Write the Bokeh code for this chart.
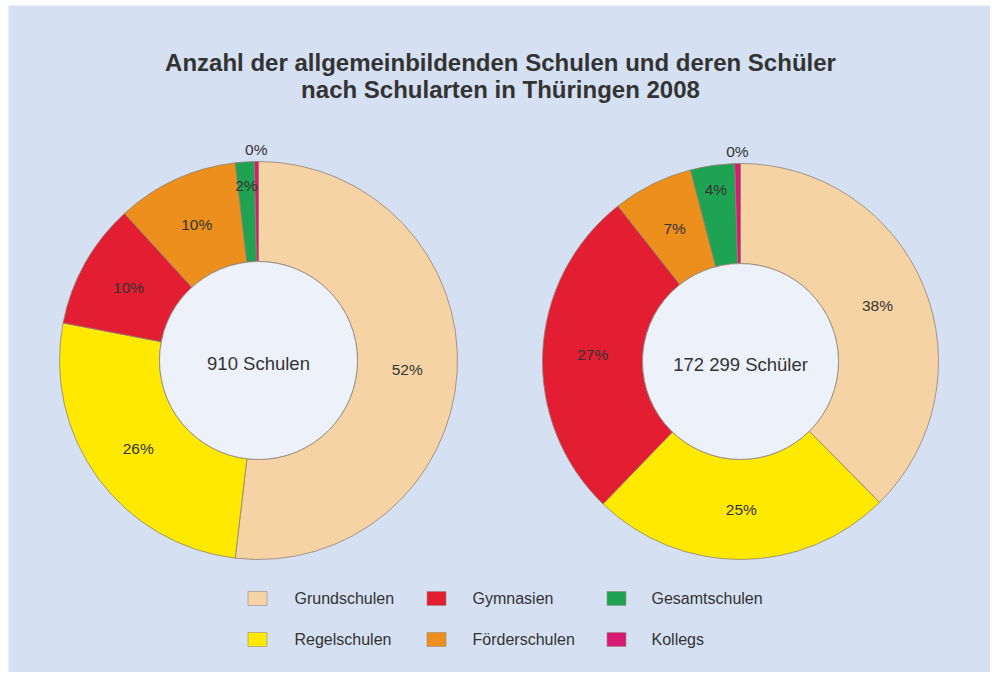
import math
from bokeh.plotting import figure
from bokeh.models import ColumnDataSource, Range1d
from bokeh.core.properties import value
from bokeh.embed import file_html
from bokeh.resources import INLINE

# ---- data ----
categories = ["Grundschulen", "Regelschulen", "Gymnasien", "Förderschulen", "Gesamtschulen", "Kollegs"]
schulen = [472, 238, 93, 90, 14, 3]
schueler = [64800, 42400, 46800, 11300, 6200, 799]
colors = ["#f6d3a5", "#ffe900", "#e31d32", "#ec8f1c", "#1ea352", "#d81b72"]
center_labels = ["910 Schulen", "172 299 Schüler"]
title_lines = ["Anzahl der allgemeinbildenden Schulen und deren Schüler",
               "nach Schularten in Thüringen 2008"]

W, H = 990, 672
ML, MT = 8, 5
FW, FH = W - ML, H - MT
BG = "#d5e0f2"
FONT = value("Liberation Sans")
TXT = "#333333"

p = figure(width=W, height=H, output_backend="svg", toolbar_location=None,
           x_range=Range1d(0, FW), y_range=Range1d(0, FH),
           min_border_left=ML, min_border_top=MT, min_border_right=0,
           min_border_bottom=0)
p.axis.visible = False
p.grid.visible = False
p.outline_line_color = None
p.background_fill_color = BG
p.border_fill_color = "white"


def px(X):
    return X - ML


def py(Y):
    return (FH + MT) - Y


def donut(vals, cx, cy, r_out, r_in, label):
    total = float(sum(vals))
    starts, ends, lx, ly, lt = [], [], [], [], []
    cum = 0.0
    for v in vals:
        f0 = cum / total
        cum += v
        f1 = cum / total
        a0 = math.pi / 2 - 2 * math.pi * f0
        a1 = math.pi / 2 - 2 * math.pi * f1
        starts.append(a0)
        ends.append(a1)
        pct = 100.0 * v / total
        mid = (a0 + a1) / 2
        if pct < 1:
            rr = r_out + 12
        elif pct < 5:
            rr = (r_out + r_in) / 2 + 26
        else:
            rr = (r_out + r_in) / 2
        lx.append(cx + rr * math.cos(mid))
        ly.append(cy + rr * math.sin(mid))
        lt.append(f"{round(pct):d}%")
    src = ColumnDataSource(dict(start=starts, end=ends, color=colors))
    p.annular_wedge(x=cx, y=cy, inner_radius=r_in, outer_radius=r_out,
                    start_angle="start", end_angle="end", direction="clock",
                    fill_color="color", line_color="#8f8373", line_width=0.8,
                    source=src)
    p.circle(x=[cx], y=[cy], radius=r_in, fill_color="#edf1fa",
             line_color="#8f8373", line_width=0.8)
    p.text(x=lx, y=ly, text=lt, text_font=FONT, text_font_size="15.5px",
           text_color=TXT, text_align="center", text_baseline="middle")
    p.text(x=[cx], y=[cy - 3], text=[label], text_font=FONT, text_font_size="18.5px",
           text_color=TXT, text_align="center", text_baseline="middle")


donut(schulen, px(258), py(360), 199, 99, center_labels[0])
donut(schueler, px(740), py(361), 198, 98, center_labels[1])

# title
p.text(x=[px(500), px(500)], y=[py(62), py(89)], text=title_lines,
       text_font=FONT, text_font_size="24px", text_font_style="bold",
       text_color=TXT, text_align="center", text_baseline="middle")

# legend
sq_x = [257, 436, 616]
tx_x = [294, 472, 651]
row_y = [598, 639]
lgx, lgy, ltx, lty = [], [], [], []
for i, c in enumerate(categories):
    col, row = i // 2, i % 2
    lgx.append(px(sq_x[col]))
    lgy.append(py(row_y[row]))
    ltx.append(px(tx_x[col]))
    lty.append(py(row_y[row]))
p.rect(x=lgx, y=lgy, width=19, height=14, fill_color=colors,
       line_color="#9a8c7c", line_width=0.6)
p.text(x=ltx, y=lty, text=categories, text_font=FONT, text_font_size="16px",
       text_color=TXT, text_align="left", text_baseline="middle")

open("out.html", "w").write(file_html(p, INLINE))
